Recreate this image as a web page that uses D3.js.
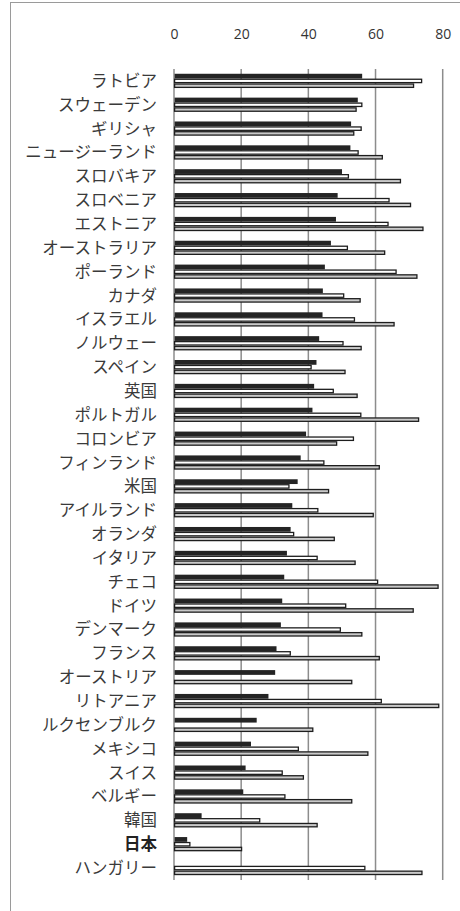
<!DOCTYPE html>
<html>
<head>
<meta charset="utf-8">
<script src="https://cdn.jsdelivr.net/npm/d3@7/dist/d3.min.js"></script>
<style>
  html, body { margin: 0; padding: 0; background: #fff; }
  svg { display: block; }
</style>
</head>
<body>
<svg id="chart" width="460" height="911"></svg>
<script>
// Countries, top to bottom
const countries = [
  "ラトビア", "スウェーデン", "ギリシャ", "ニュージーランド", "スロバキア",
  "スロベニア", "エストニア", "オーストラリア", "ポーランド", "カナダ",
  "イスラエル", "ノルウェー", "スペイン", "英国", "ポルトガル",
  "コロンビア", "フィンランド", "米国", "アイルランド", "オランダ",
  "イタリア", "チェコ", "ドイツ", "デンマーク", "フランス",
  "オーストリア", "リトアニア", "ルクセンブルク", "メキシコ", "スイス",
  "ベルギー", "韓国", "日本", "ハンガリー"
];

// Three series per country (null = no value)
const seriesA = [
  56.2, 54.9, 52.9, 52.7, 50.2, 48.9, 48.4, 46.9, 45.1, 44.5,
  44.4, 43.4, 42.6, 41.9, 41.4, 39.5, 37.9, 37.0, 35.4, 34.9,
  33.8, 33.0, 32.4, 32.0, 30.7, 30.3, 28.3, 24.8, 23.1, 21.5,
  20.8, 8.4, 4.1, null
];
const seriesB = [
  73.9, 56.1, 55.9, 55.0, 52.1, 64.2, 63.9, 51.8, 66.3, 50.7,
  53.9, 50.5, 41.0, 47.6, 55.8, 53.6, 44.8, 34.4, 43.0, 35.8,
  42.8, 60.8, 51.3, 49.7, 34.8, null, 61.9, null, 37.2, 32.4,
  33.2, 25.7, 4.9, 57.0
];
const seriesC = [
  71.5, 54.4, 53.7, 62.2, 67.6, 70.6, 74.3, 62.9, 72.5, 55.6,
  65.7, 55.9, 51.1, 54.7, 73.0, 48.6, 61.3, 46.2, 59.5, 47.9,
  54.1, 78.8, 71.4, 56.1, 61.3, 53.1, 79.0, 41.5, 57.9, 38.7,
  53.1, 42.8, 20.3, 74.0
];

const tickValues = [0, 20, 40, 60, 80];
const highlight = "日本";

const svg = d3.select("#chart");

// Outer frame (runs off the right and bottom edges)
svg.append("rect")
  .attr("x", 10.5).attr("y", 2.5)
  .attr("width", 500).attr("height", 950)
  .attr("fill", "none")
  .attr("stroke", "#9a9a9a")
  .attr("stroke-width", 1);

const x = d3.scaleLinear().domain([0, 80]).range([174, 442.7]);
const y = d3.scaleBand().domain(countries).range([69, 880])
  .paddingInner(0.4).paddingOuter(0.2);
const seriesKeys = ["A", "B", "C"];
const ySub = d3.scaleBand().domain(seriesKeys).range([0, y.bandwidth()]);

const plotTop = 69, plotBottom = 880;

// Vertical gridlines
svg.append("g").selectAll("line")
  .data(tickValues)
  .join("line")
  .attr("x1", d => x(d)).attr("x2", d => x(d))
  .attr("y1", plotTop).attr("y2", plotBottom)
  .attr("stroke", "#8c8c8c")
  .attr("stroke-width", 1.5);

// Top axis labels
const axis = d3.axisTop(x).tickValues(tickValues).tickSize(0).tickPadding(0);
const axisG = svg.append("g")
  .attr("transform", "translate(0,39)")
  .call(axis);
axisG.select(".domain").remove();
axisG.selectAll("text")
  .attr("font-family", "'Open Sans', 'Noto Sans', sans-serif")
  .attr("font-size", 14)
  .attr("fill", "#333")
  .attr("dy", 0);

// Bars
const styles = {
  A: { fill: "#242424", stroke: "#242424" },
  B: { fill: "#ffffff", stroke: "#1e1e1e" },
  C: { fill: "#c9c9c9", stroke: "#1e1e1e" }
};
const rows = countries.map((c, i) => ({
  country: c,
  values: [
    { key: "A", v: seriesA[i] },
    { key: "B", v: seriesB[i] },
    { key: "C", v: seriesC[i] }
  ]
}));

const groups = svg.append("g").selectAll("g")
  .data(rows)
  .join("g")
  .attr("transform", d => `translate(0,${y(d.country)})`);

groups.selectAll("rect")
  .data(d => d.values.filter(s => s.v != null))
  .join("rect")
  .attr("x", x(0) + 0.6)
  .attr("y", s => ySub(s.key) + (s.key === "A" ? 0 : 0.7))
  .attr("width", s => Math.max(0, x(s.v) - x(0) - 1.2))
  .attr("height", s => ySub.bandwidth() - (s.key === "A" ? 0 : 1.4))
  .attr("fill", s => styles[s.key].fill)
  .attr("stroke", s => s.key === "A" ? "none" : styles[s.key].stroke)
  .attr("stroke-width", 1.3);

// Category labels
svg.append("g").selectAll("text")
  .data(countries)
  .join("text")
  .attr("x", 157)
  .attr("y", d => y(d) + y.bandwidth() / 2)
  .attr("dy", "0.36em")
  .attr("text-anchor", "end")
  .attr("font-family", "'Noto Sans CJK JP', sans-serif")
  .attr("font-size", 16.5)
  .attr("font-weight", d => d === highlight ? "bold" : "normal")
  .attr("fill", d => d === highlight ? "#222" : "#3a3a3a")
  .text(d => d);
</script>
</body>
</html>
